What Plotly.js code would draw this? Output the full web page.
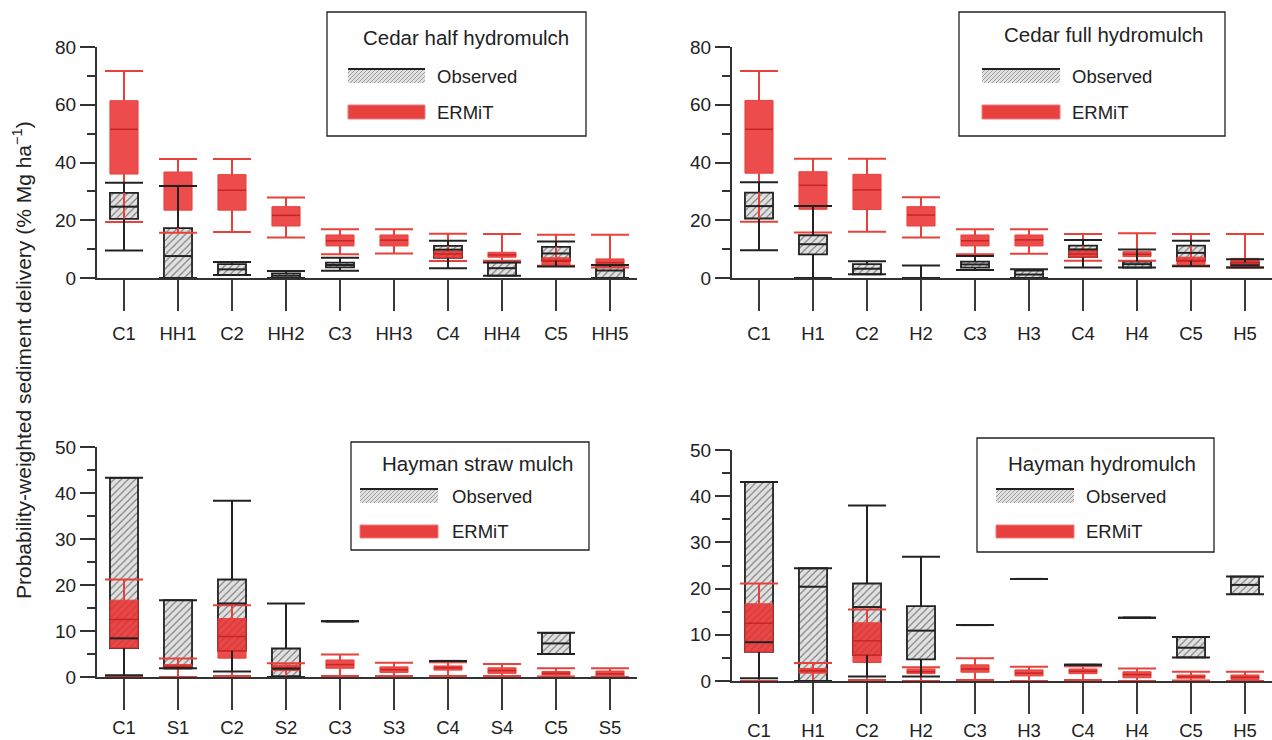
<!DOCTYPE html>
<html>
<head>
<meta charset="utf-8">
<script src="https://cdn.plot.ly/plotly-3.0.1.min.js"></script>
<style>html,body{margin:0;padding:0;background:#fff}#chart{width:1272px;height:740px}</style>
</head>
<body>
<div id="chart"></div>
<script>
// ---------- DATA ----------
// Panel A: Cedar half hydromulch
const catsA = ['C1','HH1','C2','HH2','C3','HH3','C4','HH4','C5','HH5'];
const obsLowA  = [9.5, 0, 1.0, 0, 2.5, null, 3.4, 0.8, 4.0, 0];
const obsQ1A   = [20.5, 0, 1.0, 0, 3.7, null, 7.0, 0.8, 6.0, 0];
const obsMedA  = [24.7, 7.6, 3.0, 0.8, 4.5, null, 9.8, 3.4, 8.5, 2.6];
const obsQ3A   = [29.5, 17.3, 4.8, 1.6, 5.3, null, 11.1, 5.4, 10.8, 3.8];
const obsHighA = [33.0, 31.9, 5.5, 2.4, 7.0, null, 12.9, 5.4, 12.6, 4.5];
const ermLowA  = [19.4, 15.7, 15.9, 14.0, 8.2, 8.5, 5.9, 6.0, 4.2, 3.6];
const ermQ1A   = [36.0, 23.5, 23.5, 18.0, 11.1, 11.1, 7.0, 7.2, 4.5, 4.2];
const ermMedA  = [51.5, 32.0, 30.4, 21.7, 12.9, 13.1, 8.3, 8.0, 5.8, 5.3];
const ermQ3A   = [61.4, 36.7, 35.8, 24.7, 14.9, 14.9, 9.2, 8.9, 7.0, 6.6];
const ermHighA = [71.7, 41.2, 41.2, 27.9, 16.9, 16.9, 15.3, 15.2, 15.0, 15.0];

// Panel B: Cedar full hydromulch
const catsB = ['C1','H1','C2','H2','C3','H3','C4','H4','C5','H5'];
const obsLowB  = [9.6, 0, 1.3, 0, 2.8, 0, 3.6, 3.6, 4.1, 3.6];
const obsQ1B   = [20.6, 8.2, 1.3, 0, 3.6, 0, 7.2, 3.6, 6.0, 3.7];
const obsMedB  = [24.9, 11.7, 3.2, 0, 4.7, 1.2, 9.9, 4.8, 8.7, 4.4];
const obsQ3B   = [29.6, 14.8, 4.8, 0, 5.7, 2.6, 11.2, 5.7, 11.2, 5.4];
const obsHighB = [33.2, 24.9, 5.8, 4.3, 7.6, 3.0, 13.2, 9.9, 12.9, 6.5];
const ermLowB  = [19.5, 15.8, 16.0, 14.0, 8.2, 8.4, 6.0, 6.0, 4.3, 3.6];
const ermQ1B   = [36.3, 23.8, 23.7, 18.0, 11.1, 11.1, 7.2, 7.4, 4.7, 3.9];
const ermMedB  = [51.5, 32.1, 30.5, 21.8, 12.9, 13.2, 8.3, 8.2, 5.9, 5.3];
const ermQ3B   = [61.5, 36.8, 35.9, 24.7, 14.9, 14.9, 9.5, 9.1, 7.2, 6.8];
const ermHighB = [71.7, 41.3, 41.3, 28.0, 16.9, 16.9, 15.2, 15.5, 15.2, 15.2];

// Panel C: Hayman straw mulch
const catsC = ['C1','S1','C2','S2','C3','S3','C4','S4','C5','S5'];
const obsLowC  = [0.4, 1.9, 1.2, 0, 12.1, null, 3.5, null, 5.0, null];
const obsQ1C   = [6.3, 1.9, 5.7, 0.2, 12.1, null, 3.5, null, 5.0, null];
const obsMedC  = [8.4, 1.9, 16.0, 1.8, 12.1, null, 3.5, null, 7.3, null];
const obsQ3C   = [43.3, 16.7, 21.2, 6.2, 12.1, null, 3.5, null, 9.6, null];
const obsHighC = [43.3, 16.7, 38.3, 16.0, 12.1, null, 3.5, null, 9.6, null];
const ermLowC  = [0, 0, 0.2, 0, 0.2, 0.2, 0.2, 0.2, 0.1, 0];
const ermQ1C   = [6.3, 1.9, 4.1, 1.4, 1.9, 1.0, 1.5, 0.8, 0.4, 0.1];
const ermMedC  = [12.5, 2.3, 8.8, 2.0, 2.7, 1.6, 2.0, 1.4, 0.8, 0.7];
const ermQ3C   = [16.7, 2.7, 12.7, 2.6, 3.7, 2.2, 2.4, 2.0, 1.2, 1.3];
const ermHighC = [21.2, 4.0, 15.6, 3.0, 4.9, 3.1, 3.2, 2.8, 1.9, 1.9];

// Panel D: Hayman hydromulch
const catsD = ['C1','H1','C2','H2','C3','H3','C4','H4','C5','H5'];
const obsLowD  = [0.6, 0, 1.0, 1.0, 12.1, 22.1, 3.5, 13.7, 5.1, 18.8];
const obsQ1D   = [6.3, 0, 5.6, 4.7, 12.1, 22.1, 3.5, 13.7, 5.1, 18.8];
const obsMedD  = [8.4, 20.4, 16.0, 10.9, 12.1, 22.1, 3.5, 13.7, 7.2, 20.8];
const obsQ3D   = [43.1, 24.4, 21.1, 16.2, 12.1, 22.1, 3.5, 13.7, 9.5, 22.6];
const obsHighD = [43.1, 24.4, 38.0, 26.9, 12.1, 22.1, 3.5, 13.7, 9.5, 22.6];
const ermLowD  = [0, 0, 0.2, 0, 0.2, 0, 0.2, 0, 0.1, 0];
const ermQ1D   = [6.3, 1.7, 4.0, 1.6, 1.9, 1.1, 1.6, 0.7, 0.6, 0.3];
const ermMedD  = [12.5, 2.2, 8.7, 2.0, 2.6, 1.7, 2.1, 1.4, 0.9, 0.8];
const ermQ3D   = [16.7, 2.7, 12.6, 2.6, 3.5, 2.4, 2.6, 2.0, 1.3, 1.3];
const ermHighD = [21.1, 3.9, 15.5, 3.0, 4.9, 3.1, 3.2, 2.7, 2.0, 2.0];

const panelTitles = ['Cedar half hydromulch', 'Cedar full hydromulch', 'Hayman straw mulch', 'Hayman hydromulch'];
const seriesNames = ['Observed', 'ERMiT'];
const yTitle = 'Probability-weighted sediment delivery (% Mg ha<sup>−1</sup>)';

// ---------- STYLE ----------
const FONT = 'Liberation Sans, Arial, Helvetica, sans-serif';
const W = 1272, H = 740;
const px = x => x / W;
const py = y => 1 - y / H;
const OBS_LINE = '#222222';
const ERM_FILL = 'rgba(232,42,42,0.84)';
const ERM_LINE = '#e8403a';
const ERM_MED = '#c92424';
const BOXW = 0.52;
const CAP = 38 / 1.4;   // marker size for a 38px cap
const MED = 28 / 1.4;   // marker size for a 28px median line

const traces = [];

function whiskerXY(cats, lo, q1, q3, hi) {
  const xs = [], ys = [];
  cats.forEach((c, i) => {
    if (lo[i] == null) return;
    if (q1[i] > lo[i]) { xs.push(c, c, null); ys.push(lo[i], q1[i], null); }
    if (hi[i] > q3[i]) { xs.push(c, c, null); ys.push(q3[i], hi[i], null); }
  });
  return {xs, ys};
}

function addPanel(n, cats, oLo, oQ1, oMed, oQ3, oHi, eLo, eQ1, eMed, eQ3, eHi) {
  const xa = n === 1 ? 'x' : 'x' + n;
  const ya = n === 1 ? 'y' : 'y' + n;
  const common = {xaxis: xa, yaxis: ya, hoverinfo: 'skip', showlegend: false};
  // observed boxes (hatched)
  traces.push(Object.assign({
    type: 'bar', name: seriesNames[0], x: cats, base: oQ1,
    y: oQ3.map((v, i) => v == null ? null : v - oQ1[i]), width: BOXW, cliponaxis: false,
    marker: {color: '#e1e1e1', pattern: {shape: '/', fgcolor: '#7c7c7c', bgcolor: '#e1e1e1', size: 5, solidity: 0.22},
             line: {color: OBS_LINE, width: 1.8}}
  }, common));
  // ERMiT boxes (red)
  traces.push(Object.assign({
    type: 'bar', name: seriesNames[1], x: cats, base: eQ1,
    y: eQ3.map((v, i) => v - eQ1[i]), width: BOXW, cliponaxis: false,
    marker: {color: ERM_FILL, line: {color: ERM_LINE, width: 1}}
  }, common));
  // ERMiT whiskers, caps, medians
  const ew = whiskerXY(cats, eLo, eQ1, eQ3, eHi);
  traces.push(Object.assign({type: 'scatter', mode: 'lines', x: ew.xs, y: ew.ys, cliponaxis: false,
    line: {color: ERM_LINE, width: 2}}, common));
  traces.push(Object.assign({type: 'scatter', mode: 'markers', x: cats.concat(cats), y: eLo.concat(eHi), cliponaxis: false,
    marker: {symbol: 'line-ew', size: CAP, line: {color: ERM_LINE, width: 2}}}, common));
  traces.push(Object.assign({type: 'scatter', mode: 'markers', x: cats, y: eMed, cliponaxis: false,
    marker: {symbol: 'line-ew', size: MED, line: {color: ERM_MED, width: 1.5}}}, common));
  // Observed whiskers, caps, medians
  const ow = whiskerXY(cats, oLo, oQ1, oQ3, oHi);
  traces.push(Object.assign({type: 'scatter', mode: 'lines', x: ow.xs, y: ow.ys, cliponaxis: false,
    line: {color: OBS_LINE, width: 2}}, common));
  traces.push(Object.assign({type: 'scatter', mode: 'markers', x: cats.concat(cats), y: oLo.concat(oHi), cliponaxis: false,
    marker: {symbol: 'line-ew', size: CAP, line: {color: OBS_LINE, width: 2}}}, common));
  traces.push(Object.assign({type: 'scatter', mode: 'markers', x: cats, y: oMed, cliponaxis: false,
    marker: {symbol: 'line-ew', size: MED, line: {color: OBS_LINE, width: 2}}}, common));
}

addPanel(1, catsA, obsLowA, obsQ1A, obsMedA, obsQ3A, obsHighA, ermLowA, ermQ1A, ermMedA, ermQ3A, ermHighA);
addPanel(2, catsB, obsLowB, obsQ1B, obsMedB, obsQ3B, obsHighB, ermLowB, ermQ1B, ermMedB, ermQ3B, ermHighB);
addPanel(3, catsC, obsLowC, obsQ1C, obsMedC, obsQ3C, obsHighC, ermLowC, ermQ1C, ermMedC, ermQ3C, ermHighC);
addPanel(4, catsD, obsLowD, obsQ1D, obsMedD, obsQ3D, obsHighD, ermLowD, ermQ1D, ermMedD, ermQ3D, ermHighD);

// ---------- AXES ----------
function xAxis(cats, x0, x1, anchor, standoff) {
  return {domain: [px(x0), px(x1)], anchor: anchor, type: 'category', categoryarray: cats, categoryorder: 'array',
    range: [-0.5, 9.5], showline: true, linecolor: '#333', linewidth: 1.6, showgrid: false, zeroline: false,
    ticks: 'outside', ticklen: 31, tickwidth: 2, tickcolor: '#3a3a3a', ticklabelstandoff: standoff,
    tickfont: {family: FONT, size: 18.5, color: '#222'}, fixedrange: true};
}
function yAxis(y0, y1, max, dtick, anchor) {
  return {domain: [py(y1), py(y0)], anchor: anchor, range: [0, max], tickmode: 'linear', tick0: 0, dtick: dtick,
    showline: true, linecolor: '#333', linewidth: 2, showgrid: false, zeroline: false,
    ticks: 'outside', ticklen: 15, tickwidth: 2, tickcolor: '#333',
    minor: {dtick: dtick / 2, tick0: 0, ticks: 'outside', ticklen: 8, tickwidth: 2, tickcolor: '#333', showgrid: false},
    tickfont: {family: FONT, size: 19, color: '#222'}, fixedrange: true};
}

// ---------- LEGEND BOXES (shapes + text) ----------
const shapes = [], annotations = [];
function hatch(x0, x1, y0, y1, step) {
  let d = '';
  for (let c = x0 + y0; c <= x1 + y1; c += step) {
    const xa = Math.max(x0, c - y1), xb = Math.min(x1, c - y0);
    if (xb <= xa) continue;
    d += 'M' + px(xa).toFixed(5) + ',' + py(c - xa).toFixed(5) + 'L' + px(xb).toFixed(5) + ',' + py(c - xb).toFixed(5);
  }
  return d;
}
function legendBox(title, bx0, bx1, by0, by1, tx, ty, sx0, sx1, oy0, oy1, ey0, ey1, lx) {
  shapes.push({type: 'rect', xref: 'paper', yref: 'paper', x0: px(bx0), x1: px(bx1), y0: py(by1), y1: py(by0),
    line: {color: '#222', width: 1.3}, fillcolor: 'rgba(0,0,0,0)'});
  shapes.push({type: 'rect', xref: 'paper', yref: 'paper', x0: px(sx0), x1: px(sx1), y0: py(oy1), y1: py(oy0),
    line: {width: 0}, fillcolor: '#e1e1e1'});
  shapes.push({type: 'path', xref: 'paper', yref: 'paper', path: hatch(sx0, sx1, oy0, oy1, 4), line: {color: '#8c8c8c', width: 0.8}});
  shapes.push({type: 'line', xref: 'paper', yref: 'paper', x0: px(sx0), x1: px(sx1), y0: py(oy0), y1: py(oy0),
    line: {color: '#222', width: 2}});
  shapes.push({type: 'rect', xref: 'paper', yref: 'paper', x0: px(sx0), x1: px(sx1), y0: py(ey1), y1: py(ey0),
    line: {color: '#f07a7a', width: 1}, fillcolor: '#e8403f'});
  annotations.push({xref: 'paper', yref: 'paper', x: px(tx), y: py(ty), xanchor: 'center', yanchor: 'middle',
    text: title, showarrow: false, font: {family: FONT, size: 20.5, color: '#222'}});
  annotations.push({xref: 'paper', yref: 'paper', x: px(lx), y: py((oy0 + oy1) / 2), xanchor: 'left', yanchor: 'middle',
    text: seriesNames[0], showarrow: false, font: {family: FONT, size: 18.5, color: '#222'}});
  annotations.push({xref: 'paper', yref: 'paper', x: px(lx), y: py((ey0 + ey1) / 2), xanchor: 'left', yanchor: 'middle',
    text: seriesNames[1], showarrow: false, font: {family: FONT, size: 18.5, color: '#222'}});
}
legendBox(panelTitles[0], 327, 586, 12, 136, 466, 37, 348, 425, 69, 83, 105, 119, 435);
legendBox(panelTitles[1], 959, 1225, 12, 136, 1103, 35, 982, 1060, 69, 83, 105, 119, 1070);
legendBox(panelTitles[2], 351, 589, 442, 550, 477, 463, 360, 438, 489, 503, 525, 538, 450);
legendBox(panelTitles[3], 977, 1214, 438, 552, 1102, 463, 996, 1074, 489, 503, 525, 538, 1084);

annotations.push({xref: 'paper', yref: 'paper', x: px(22), y: py(360), xanchor: 'center', yanchor: 'middle',
  textangle: -90, text: yTitle, showarrow: false, font: {family: FONT, size: 21, color: '#222'}});

const layout = {
  width: W, height: H, autosize: false, margin: {l: 0, r: 0, t: 0, b: 0},
  paper_bgcolor: '#fff', plot_bgcolor: 'rgba(0,0,0,0)', showlegend: false, barmode: 'overlay',
  font: {family: FONT, color: '#222'},
  xaxis: xAxis(catsA, 97, 637, 'y', 7),   yaxis: yAxis(47, 278, 80, 20, 'x'),
  xaxis2: xAxis(catsB, 732, 1272, 'y2', 7), yaxis2: yAxis(47, 278, 80, 20, 'x2'),
  xaxis3: xAxis(catsC, 97, 637, 'y3', 2), yaxis3: yAxis(447, 677, 50, 10, 'x3'),
  xaxis4: xAxis(catsD, 732, 1272, 'y4', 1), yaxis4: yAxis(450, 681, 50, 10, 'x4'),
  shapes: shapes, annotations: annotations
};

Plotly.newPlot('chart', traces, layout, {staticPlot: true, displayModeBar: false});
</script>
</body>
</html>
